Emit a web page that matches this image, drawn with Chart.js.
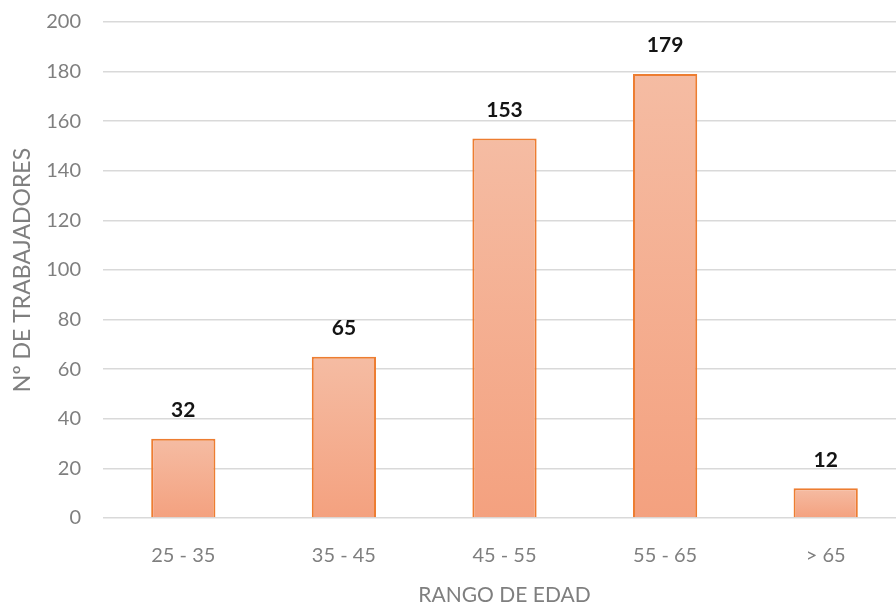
<!DOCTYPE html>
<html lang="es">
<head>
<meta charset="UTF-8">
<title>Rango de edad</title>
<script src="https://cdn.jsdelivr.net/npm/chart.js"></script>
<style>
    html, body { margin: 0; padding: 0; overflow: hidden; background: #fff; }
    #wrap { width: 906px; height: 611px; }
</style>
</head>
<body>
<div id="wrap"><canvas id="edadChart" width="906" height="611"></canvas></div>
<script>
    const rangos = ['25 - 35', '35 - 45', '45 - 55', '55 - 65', '> 65'];
    const trabajadores = [32, 65, 153, 179, 12];
    const yMax = 200;
    const yStep = 20;

    const gris = '#7f7f7f';
    const fuente = 'Lato, "Open Sans", sans-serif';

    // per-bar vertical gradient, like the Excel fill
    function barFill(c) {
        const chart = c.chart;
        if (!chart.chartArea) return '#f4ad8f';
        const y = chart.scales.y;
        const top = y.getPixelForValue(c.raw);
        const bottom = y.getPixelForValue(0);
        const g = chart.ctx.createLinearGradient(0, top, 0, bottom);
        g.addColorStop(0, '#f5bca3');
        g.addColorStop(1, '#f4a17f');
        return g;
    }

    const valueLabels = {
        id: 'valueLabels',
        afterDatasetsDraw(chart) {
            const ctx = chart.ctx;
            const meta = chart.getDatasetMeta(0);
            ctx.save();
            ctx.font = 'bold 21px ' + fuente;
            ctx.fillStyle = '#141414';
            ctx.textAlign = 'center';
            ctx.textBaseline = 'bottom';
            meta.data.forEach((bar, i) => {
                ctx.fillText(trabajadores[i], bar.x, bar.y - 18);
            });
            ctx.restore();
        }
    };

    new Chart(document.getElementById('edadChart'), {
        type: 'bar',
        data: {
            labels: rangos,
            datasets: [{
                data: trabajadores,
                backgroundColor: barFill,
                borderColor: '#ed7d31',
                borderWidth: 2,
                borderSkipped: 'bottom',
                barPercentage: 0.8,
                categoryPercentage: 0.5
            }]
        },
        options: {
            responsive: false,
            animation: false,
            layout: { padding: { top: 22, right: 0, left: 0, bottom: 0 } },
            plugins: { legend: { display: false }, tooltip: { enabled: false } },
            scales: {
                x: {
                    grid: { display: false },
                    border: { display: false },
                    ticks: { color: gris, font: { family: fuente, size: 20 }, padding: 18 },
                    title: { display: true, text: 'RANGO DE EDAD', color: gris, font: { family: fuente, size: 21 }, padding: { top: 0, bottom: 3 } },
                    afterFit: s => { s.height = 93; }
                },
                y: {
                    min: 0,
                    max: yMax,
                    ticks: { stepSize: yStep, color: gris, font: { family: fuente, size: 20 }, padding: 22 },
                    grid: { color: '#d9d9d9', lineWidth: 1.5, drawTicks: false },
                    border: { display: false },
                    title: { display: true, text: 'Nº DE TRABAJADORES', color: gris, font: { family: fuente, size: 23 }, padding: { top: 9, bottom: 0 } },
                    afterFit: s => { s.width = 103; s.paddingTop = 0; s.paddingBottom = 0; }
                }
            }
        },
        plugins: [valueLabels]
    });
</script>
</body>
</html>
